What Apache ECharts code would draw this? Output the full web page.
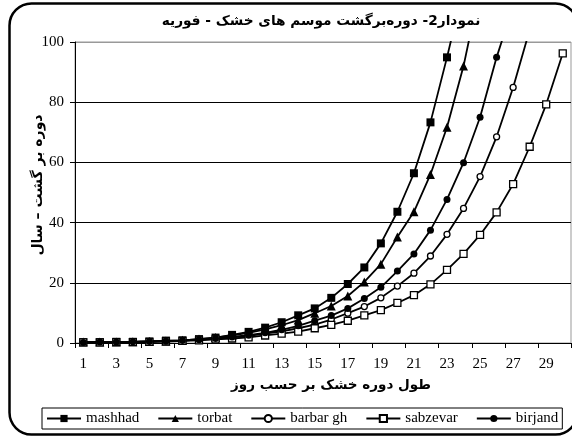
<!DOCTYPE html>
<html>
<head>
<meta charset="utf-8">
<script src="https://cdn.jsdelivr.net/npm/echarts@6/dist/echarts.min.js"></script>
<style>
  html, body { margin: 0; padding: 0; background: #fff; }
  #chart { width: 572px; height: 438px; }
</style>
</head>
<body>
<div id="chart"></div>
<script>
// Dry-spell length (days) on the category axis
const days = ['1','2','3','4','5','6','7','8','9','10','11','12','13','14','15',
              '16','17','18','19','20','21','22','23','24','25','26','27','28','29','30'];

// Return period (years) per station; values past the axis top keep the line running to the edge
const mashhad  = [0.3,0.3,0.4,0.4,0.5,0.8,0.9,1.3,1.8,2.7,3.7,5.1,6.9,9.2,11.5,15.0,19.6,25.1,33.1,43.6,56.4,73.3,94.9,118,null,null,null,null,null,null];
const torbat   = [0.3,0.3,0.3,0.4,0.5,0.7,0.9,1.3,1.8,2.5,3.4,4.5,5.9,7.6,9.9,12.3,15.6,20.3,26.2,35.2,43.6,56.0,71.7,92.0,118,null,null,null,null,null];
const barbarGh = [0.2,0.3,0.3,0.4,0.5,0.6,0.8,1.1,1.4,1.9,2.4,3.1,3.9,4.9,6.1,7.8,9.9,12.1,15.0,18.9,23.2,28.9,36.1,44.7,55.3,68.5,84.9,104,null,null];
const sabzevar = [0.2,0.2,0.3,0.3,0.4,0.5,0.7,0.9,1.2,1.5,1.9,2.5,3.1,3.8,4.9,6.0,7.4,9.2,10.9,13.3,15.9,19.5,24.3,29.6,35.9,43.4,52.8,65.2,79.3,96.2];
const birjand  = [0.2,0.3,0.3,0.4,0.5,0.6,0.8,1.1,1.5,2.0,2.6,3.4,4.4,5.7,7.4,9.1,11.5,14.8,18.5,23.9,29.6,37.5,47.7,59.9,75.0,94.9,112,null,null,null];

const yTicks = { min: 0, max: 100, step: 20 };

const titleText  = 'نمودار2- دوره‌برگشت موسم های خشک - فوریه';
const xAxisTitle = 'طول دوره خشک بر حسب روز';
const yAxisTitle = 'دوره بر گشت – سال';

const serif = 'Liberation Serif';

function station(name, data, symbol, size, hollow) {
  return {
    name: name,
    type: 'line',
    data: data,
    symbol: symbol,
    symbolSize: size,
    showAllSymbol: true,
    clip: true,
    connectNulls: false,
    lineStyle: { color: '#000', width: 1.8 },
    itemStyle: hollow
      ? { color: '#fff', borderColor: '#000', borderWidth: 1.3 }
      : { color: '#000', borderColor: '#000', borderWidth: 0 },
    emphasis: { disabled: true }
  };
}

const chart = echarts.init(document.getElementById('chart'), null, { renderer: 'canvas' });

chart.setOption({
  animation: false,
  backgroundColor: '#fff',
  grid: {
    left: 75, right: 1, top: 42, bottom: 95,
    show: true, borderColor: '#999', borderWidth: 1
  },
  xAxis: {
    type: 'category',
    data: days,
    boundaryGap: true,
    axisLine: { lineStyle: { color: '#000', width: 1 } },
    axisTick: { show: true, interval: 1, length: 5, lineStyle: { color: '#000' } },
    axisLabel: { interval: 1, color: '#000', fontFamily: serif, fontSize: 15, margin: 14 },
    splitLine: { show: false }
  },
  yAxis: {
    type: 'value',
    min: yTicks.min, max: yTicks.max, interval: yTicks.step,
    axisLine: { show: true, lineStyle: { color: '#000', width: 1 } },
    axisTick: { show: true, length: 5, lineStyle: { color: '#000' } },
    axisLabel: { color: '#000', fontFamily: serif, fontSize: 15, margin: 11 },
    splitLine: { show: true, lineStyle: { color: ['#000','#000','#000','#000','#000','#999'], width: 1 } }
  },
  legend: {
    left: 42, top: 408,
    orient: 'horizontal',
    borderColor: '#000', borderWidth: 1,
    padding: [3, 4],
    itemGap: 18,
    itemWidth: 34, itemHeight: 9,
    textStyle: { color: '#000', fontFamily: serif, fontSize: 15 },
    data: ['mashhad', 'torbat', 'barbar gh', 'sabzevar', 'birjand']
  },
  series: [
    station('mashhad',   mashhad,  'rect',     8, false),
    station('torbat',    torbat,   'triangle', 9, false),
    station('barbar gh', barbarGh, 'circle',   6, true),
    station('sabzevar',  sabzevar, 'rect',     7, true),
    station('birjand',   birjand,  'circle',   7, false)
  ],
  graphic: [
    {
      type: 'rect', silent: true, z: 100,
      shape: { x: 9.5, y: 3.5, width: 568, height: 431, r: 22 },
      style: { fill: 'none', stroke: '#000', lineWidth: 2.5 }
    },
    {
      type: 'text', silent: true,
      x: 321, y: 21,
      style: { text: titleText, font: 'bold 13.7px "DejaVu Sans"', fill: '#000', align: 'center', verticalAlign: 'middle' }
    },
    {
      type: 'text', silent: true,
      x: 331, y: 385,
      style: { text: xAxisTitle, font: 'bold 13.5px "DejaVu Sans"', fill: '#000', align: 'center', verticalAlign: 'middle' }
    },
    {
      type: 'text', silent: true,
      x: 38, y: 185, rotation: Math.PI / 2,
      style: { text: yAxisTitle, font: 'bold 14px "DejaVu Sans"', fill: '#000', align: 'center', verticalAlign: 'middle' }
    }
  ]
});
</script>
</body>
</html>
